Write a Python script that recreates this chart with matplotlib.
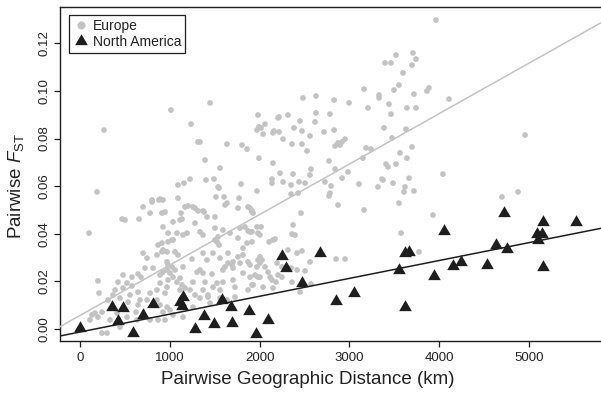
import matplotlib
matplotlib.use("Agg")
import matplotlib.pyplot as plt
from matplotlib.lines import Line2D
import numpy as np

plt.rcParams['font.family'] = ['Liberation Sans', 'DejaVu Sans']
plt.rcParams['mathtext.fontset'] = 'custom'
plt.rcParams['mathtext.rm'] = 'Liberation Sans'
plt.rcParams['mathtext.it'] = 'Liberation Sans:italic'

# Europe: pairwise geographic distance (km) and pairwise FST
eu_dist = [
    267, 1013, 1448, 1236, 1314, 1637, 1804, 1860, 1982, 1993,
    1971, 2016, 2038, 2060, 2205, 2216, 2316, 2483, 2628, 2450,
    2383, 2472, 2628, 2617, 2561, 2261, 2149, 2160, 2216, 2361,
    2472, 2528, 2717, 2784, 2829, 2829, 2996, 3163, 3207, 3330,
    3330, 3497, 3441, 3463, 3396, 3463, 3519, 3552, 3385, 3474,
    2840, 2873, 2918, 2951, 2895, 3185, 3241, 3151, 3563, 3408,
    3430, 3519, 3486, 3374, 3318, 3107, 2918, 2984, 2840, 2773,
    2728, 2795, 2784, 2773, 2572, 2561, 2506, 2439, 2428, 2350,
    2350, 2261, 2372, 2227, 2149, 2138, 2138, 1993, 1971, 1793,
    1771, 1559, 1492, 1403, 1392, 1548, 1514, 1604, 1336, 3964,
    3708, 3742, 3697, 3597, 3719, 3864, 3886, 4109, 3641, 3742,
    3630, 3697, 3641, 4956, 4042, 3664, 3619, 3608, 3719, 4699,
    4878, 189, 1091, 1158, 1225, 891, 802, 2461, 2873, 3163,
    3552, 3931, 3575, 2372, 2361, 2394, 2172, 2016, 1893, 1915,
    1927, 3363, 3775, 2851, 2951, 2316, 2417, 2472, 2561, 2506,
    2350, 2194, 2183, 2038, 2149, 2249, 2572, 2027, 2004, 2094,
    2116, 2105, 2450,
    100, 468, 501, 657, 702, 802, 880, 780, 913, 924,
    869, 913, 857, 746, 702, 724, 679, 579, 646, 523,
    479, 579, 646, 557, 479, 423, 390, 367, 200, 212,
    445, 312, 535, 668, 646, 624, 857, 780, 746, 857,
    891, 969, 947, 980, 891, 891, 813, 969, 969, 913,
    134, 167, 200, 245, 111, 245, 301, 334, 412, 523,
    635, 780, 869, 924, 445, 980, 1080, 1024, 1136, 1169,
    1258, 1192, 1247, 1303, 1258, 1147, 1002, 924, 1091, 1203,
    1281, 1314, 1370, 1537, 1615, 1637, 1893, 1915, 1971, 2004,
    1871, 1815, 1815, 1693, 1648, 1559, 1592, 1503, 1503, 1592,
    1548, 1414, 1336, 1370, 1470, 1392, 1481, 1592, 1559, 1704,
    1893, 1915, 1982, 1871, 2004, 2060, 1759, 1125, 947, 1036,
    1114, 1147, 1281, 1370, 1414, 1503, 980, 1036, 924, 969,
    1058, 1091, 980, 1024, 1058, 924, 1036, 1114, 1080, 1136,
    1169, 1225, 1281, 1114, 1336, 1425, 1448, 1559, 1258, 969,
    1002, 1036, 1147, 947, 1381, 1759, 1871, 1336, 1537, 1526,
    1670, 1782, 1837, 1759, 1915, 1982, 1860, 1915, 1370, 1481,
    2149, 1648, 1704, 1782, 1615, 1704, 1893, 1971, 1982, 1815,
    1949, 2004, 2205, 2138, 2249, 2417, 2361, 1370, 1526, 1726,
    1871, 1726, 1637, 1425, 1927,
]
eu_fst = [
    0.0836, 0.0920, 0.0950, 0.0861, 0.0786, 0.0777, 0.0773, 0.0756, 0.0899, 0.0849,
    0.0836, 0.0845, 0.0819, 0.0861, 0.0887, 0.0891, 0.0899, 0.0971, 0.0979, 0.0874,
    0.0845, 0.0832, 0.0908, 0.0870, 0.0811, 0.0798, 0.0824, 0.0832, 0.0828, 0.0777,
    0.0777, 0.0748, 0.0828, 0.0903, 0.0962, 0.0836, 0.0950, 0.1008, 0.0929, 0.0983,
    0.0971, 0.1004, 0.0945, 0.0903, 0.1118, 0.1118, 0.1151, 0.1025, 0.0845, 0.0803,
    0.0769, 0.0782, 0.0786, 0.0798, 0.0773, 0.0761, 0.0756, 0.0718, 0.0740, 0.0693,
    0.0681, 0.0693, 0.0613, 0.0626, 0.0597, 0.0609, 0.0634, 0.0660, 0.0672, 0.0706,
    0.0618, 0.0601, 0.0571, 0.0559, 0.0672, 0.0647, 0.0613, 0.0618, 0.0571, 0.0567,
    0.0605, 0.0618, 0.0651, 0.0655, 0.0697, 0.0630, 0.0613, 0.0718, 0.0580, 0.0609,
    0.0550, 0.0676, 0.0630, 0.0626, 0.0710, 0.0592, 0.0555, 0.0555, 0.0786, 0.1298,
    0.1160, 0.1134, 0.1109, 0.1076, 0.0987, 0.1000, 0.1013, 0.0966, 0.0929, 0.0929,
    0.0840, 0.0765, 0.0718, 0.0815, 0.0651, 0.0634, 0.0597, 0.0576, 0.0580, 0.0555,
    0.0576, 0.0576, 0.0605, 0.0613, 0.0630, 0.0546, 0.0542, 0.0487, 0.0521, 0.0500,
    0.0529, 0.0479, 0.0403, 0.0437, 0.0399, 0.0395, 0.0378, 0.0429, 0.0408, 0.0496,
    0.0487, 0.0630, 0.0324, 0.0294, 0.0294, 0.0332, 0.0319, 0.0328, 0.0282, 0.0244,
    0.0256, 0.0277, 0.0197, 0.0176, 0.0172, 0.0218, 0.0189, 0.0290, 0.0303, 0.0239,
    0.0218, 0.0366, 0.0155,
    0.0403, 0.0462, 0.0458, 0.0462, 0.0513, 0.0534, 0.0542, 0.0487, 0.0487, 0.0429,
    0.0353, 0.0361, 0.0311, 0.0298, 0.0319, 0.0256, 0.0218, 0.0218, 0.0231, 0.0193,
    0.0227, 0.0181, 0.0155, 0.0143, 0.0172, 0.0197, 0.0164, 0.0143, 0.0202, 0.0151,
    0.0130, 0.0122, 0.0113, 0.0122, 0.0101, 0.0071, 0.0164, 0.0151, 0.0122, 0.0122,
    0.0101, 0.0176, 0.0151, 0.0206, 0.0193, 0.0227, 0.0256, 0.0248, 0.0282, 0.0324,
    0.0059, 0.0067, 0.0050, 0.0071, 0.0038, -0.0017, -0.0017, 0.0038, 0.0067, 0.0050,
    0.0038, 0.0038, 0.0038, 0.0071, 0.0008, 0.0403, 0.0403, 0.0374, 0.0462, 0.0513,
    0.0513, 0.0403, 0.0294, 0.0239, 0.0197, 0.0261, 0.0235, 0.0542, 0.0550, 0.0517,
    0.0508, 0.0496, 0.0496, 0.0597, 0.0521, 0.0529, 0.0508, 0.0492, 0.0429, 0.0395,
    0.0412, 0.0340, 0.0311, 0.0269, 0.0319, 0.0298, 0.0248, 0.0374, 0.0424, 0.0416,
    0.0353, 0.0290, 0.0248, 0.0235, 0.0231, 0.0197, 0.0176, 0.0197, 0.0164, 0.0206,
    0.0218, 0.0185, 0.0218, 0.0282, 0.0277, 0.0261, 0.0303, 0.0487, 0.0492, 0.0450,
    0.0458, 0.0395, 0.0445, 0.0395, 0.0471, 0.0471, 0.0366, 0.0374, 0.0332, 0.0324,
    0.0324, 0.0311, 0.0269, 0.0261, 0.0248, 0.0239, 0.0218, 0.0214, 0.0197, 0.0185,
    0.0172, 0.0164, 0.0143, 0.0164, 0.0130, 0.0143, 0.0109, 0.0130, 0.0092, 0.0092,
    0.0080, 0.0059, 0.0050, 0.0038, 0.0492, 0.0508, 0.0513, 0.0408, 0.0387, 0.0366,
    0.0403, 0.0424, 0.0429, 0.0382, 0.0408, 0.0403, 0.0361, 0.0366, 0.0319, 0.0319,
    0.0374, 0.0277, 0.0282, 0.0277, 0.0261, 0.0256, 0.0269, 0.0261, 0.0290, 0.0235,
    0.0227, 0.0218, 0.0227, 0.0206, 0.0261, 0.0248, 0.0197, 0.0164, 0.0193, 0.0176,
    0.0164, 0.0134, 0.0122, 0.0134, 0.0185,
]

# North America: pairwise geographic distance (km) and pairwise FST
na_dist = [
    0, 356, 479, 423, 590, 702, 813, 1147, 1114, 1136,
    1581, 1682, 1882, 1381, 1492, 1693, 2094, 1960, 1281, 2249,
    2294, 2673, 2472, 2851, 3051, 3552, 3619, 3664, 3619, 3942,
    4054, 4154, 4243, 4532, 4633, 4722, 4755, 5089, 5145, 5100,
    5156, 5156, 5523,
]
na_fst = [
    0.0004, 0.0092, 0.0088, 0.0034, -0.0017, 0.0059, 0.0105, 0.0134, 0.0113, 0.0097,
    0.0122, 0.0092, 0.0076, 0.0055, 0.0021, 0.0025, 0.0038, -0.0021, 0.0000, 0.0307,
    0.0256, 0.0319, 0.0193, 0.0118, 0.0151, 0.0248, 0.0319, 0.0324, 0.0092, 0.0223,
    0.0412, 0.0265, 0.0282, 0.0269, 0.0353, 0.0487, 0.0336, 0.0399, 0.0399, 0.0374,
    0.0450, 0.0261, 0.0450,
]

# Least-squares fits (intercept, slope per km)
eu_fit = (0.0057, 2.12e-5)
na_fit = (-0.00126, 7.51e-6)

x_ticks = [0, 1000, 2000, 3000, 4000, 5000]
y_ticks = [0.00, 0.02, 0.04, 0.06, 0.08, 0.10, 0.12]
x_range = (-223, 5802)
y_range = (-0.00504, 0.1353)

grey = '#c3c3c3'
dark = '#1e1e1e'

fig = plt.figure(figsize=(6.01, 4.01), dpi=100)
ax = fig.add_axes([60 / 601, 1 - 341 / 401, 1 - 60 / 601, (341 - 7) / 401])

ax.scatter(eu_dist, eu_fst, s=17, color=grey, edgecolors='none', zorder=2)
ax.plot(na_dist, na_fst, linestyle='none', marker=(3, 0, 0), markersize=10.5,
        color=dark, markeredgewidth=0, zorder=3)

xx = np.array(x_range)
ax.plot(xx, eu_fit[0] + eu_fit[1] * xx, color=grey, lw=1.1, zorder=4)
ax.plot(xx, na_fit[0] + na_fit[1] * xx, color=dark, lw=1.1, zorder=4)

ax.set_xlim(*x_range)
ax.set_ylim(*y_range)
ax.set_xticks(x_ticks)
ax.set_xticklabels([str(t) for t in x_ticks])
ax.set_yticks(y_ticks)
ax.set_yticklabels([f'{t:.2f}' for t in y_ticks], rotation=90, va='center')

for side in ('left', 'bottom', 'top'):
    ax.spines[side].set_linewidth(1.0)
    ax.spines[side].set_color(dark)
ax.spines['right'].set_visible(False)

ax.tick_params(direction='out', length=4, width=0.9, color=dark,
               labelsize=9.5, labelcolor='#222222', pad=4)
ax.tick_params(axis='y', pad=3)

fig.text(308 / 601, 1 - 380 / 401, 'Pairwise Geographic Distance (km)',
         ha='center', va='center', fontsize=13.5, color='#222222')
fig.text(16 / 601, 1 - 186 / 401, r'Pairwise $\mathit{F}_{\mathrm{ST}}$',
         ha='center', va='center', rotation=90, fontsize=13.5, color='#222222')

handles = [
    Line2D([], [], linestyle='none', marker='o', markersize=5.8, color=grey,
           markeredgewidth=0),
    Line2D([], [], linestyle='none', marker=(3, 0, 0), markersize=10.5, color=dark,
           markeredgewidth=0),
]
leg = ax.legend(handles, ['Europe', 'North America'], loc='upper left',
                bbox_to_anchor=(9 / 541, (341 - 15) / 334), borderaxespad=0,
                frameon=True, fancybox=False, framealpha=1, edgecolor=dark,
                fontsize=10, handlelength=1.1, handletextpad=0.3,
                borderpad=0.3, labelspacing=0.12)
leg.get_frame().set_linewidth(0.9)
for t in leg.get_texts():
    t.set_color('#222222')

fig.savefig('out.png', dpi=100)
